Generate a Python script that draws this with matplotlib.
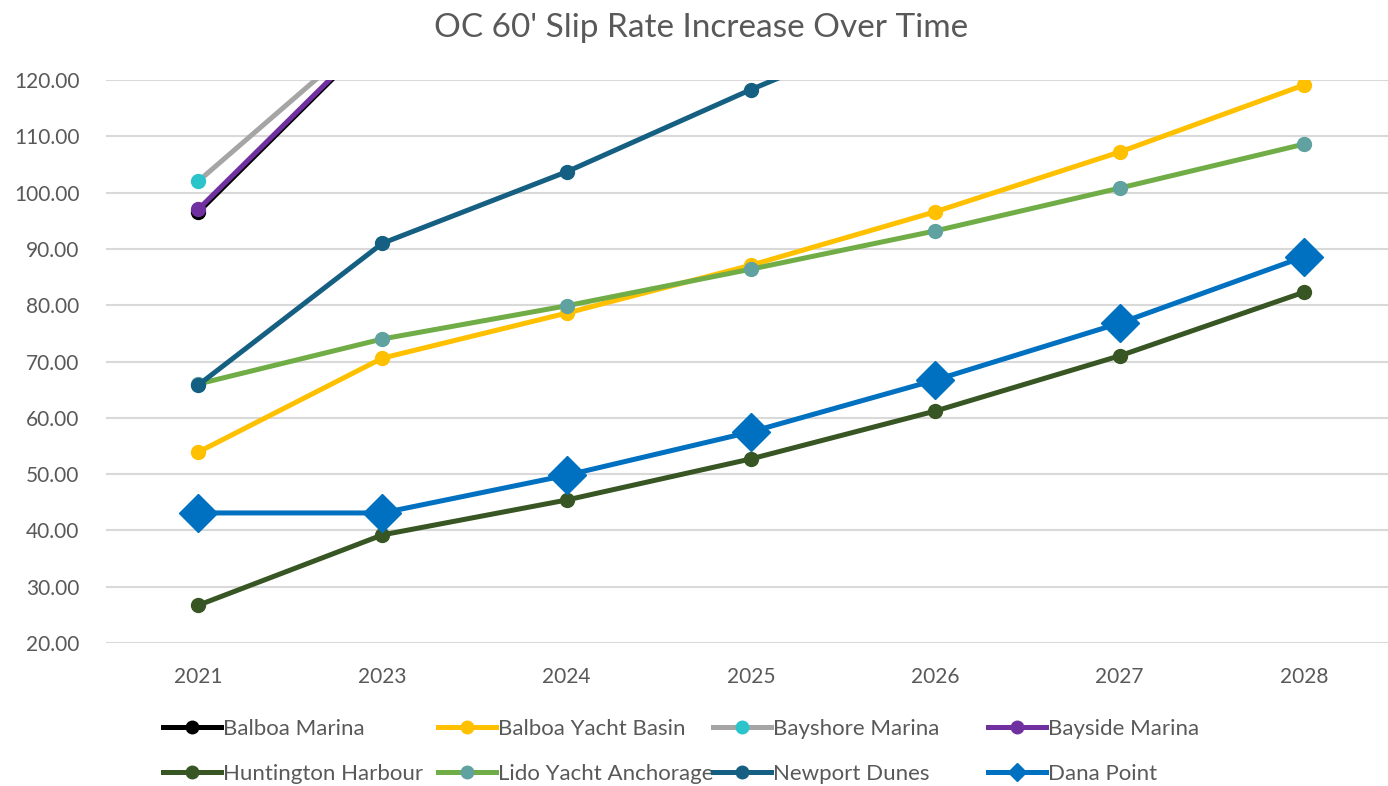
import matplotlib
matplotlib.use("Agg")
import matplotlib.pyplot as plt

plt.rcParams['font.family'] = ['Lato', 'DejaVu Sans']

# categorias del eje X (no hay 2022)
years = ['2021', '2023', '2024', '2025', '2026', '2027', '2028']

# valores (los que pasan de 120 quedan fuera del area)
balboa_marina = [96.5, 129.0, 143.0, 157.0, 171.0, 186.0, 201.0]
balboa_yacht_basin = [53.9, 70.6, 78.6, 87.1, 96.6, 107.2, 119.1]
bayshore_marina = [102.0, 130.3, 145.0, 160.0, 175.0, 190.0, 206.0]
bayside_marina = [97.0, 129.3, 143.5, 157.5, 172.0, 187.0, 202.0]
huntington_harbour = [26.7, 39.2, 45.4, 52.7, 61.2, 71.0, 82.3]
lido_yacht_anchorage = [66.0, 74.0, 79.9, 86.4, 93.2, 100.8, 108.6]
newport_dunes = [65.8, 91.0, 103.7, 118.3, 132.0, 146.0, 161.0]
dana_point = [43.1, 43.1, 49.8, 57.5, 66.7, 76.8, 88.6]

gris = '#595959'

fig = plt.figure(figsize=(13.88, 7.86), dpi=100)
ax = fig.add_axes([106 / 1388, 143 / 786, 1290 / 1388, 563 / 786])

x = range(len(years))
lw = 3.6

l1, = ax.plot(x, balboa_marina, '-o', color='black', lw=lw, ms=10, label='Balboa Marina')
l2, = ax.plot(x, balboa_yacht_basin, '-o', color='#FFC000', lw=lw, ms=10, label='Balboa Yacht Basin')
l3, = ax.plot(x, bayshore_marina, '-o', color='#A5A5A5', mfc='#2BC4CB', mec='#2BC4CB',
              lw=lw, ms=10, label='Bayshore Marina')
l4, = ax.plot(x, bayside_marina, '-o', color='#7030A0', lw=lw, ms=10, label='Bayside Marina')
l5, = ax.plot(x, huntington_harbour, '-o', color='#375623', lw=lw, ms=10, label='Huntington Harbour')
l6, = ax.plot(x, lido_yacht_anchorage, '-o', color='#70AD47', mfc='#5FA2A0', mec='#5FA2A0',
              lw=lw, ms=10, label='Lido Yacht Anchorage')
l7, = ax.plot(x, newport_dunes, '-o', color='#156082', lw=lw, ms=10, label='Newport Dunes')
l8, = ax.plot(x, dana_point, '-D', color='#0070C0', lw=lw, ms=19, label='Dana Point')

ax.set_xlim(-0.5, len(years) - 0.5)
ax.set_ylim(20, 120)
ax.set_yticks(range(20, 121, 10))
ax.set_yticklabels(['%.2f' % v for v in range(20, 121, 10)])
ax.set_xticks(list(x))
ax.set_xticklabels(years)
ax.tick_params(length=0, labelsize=15, colors=gris)
ax.tick_params(axis='x', pad=17)
ax.tick_params(axis='y', pad=19)
ax.grid(axis='y', color='#D9D9D9', lw=1.5)
ax.set_axisbelow(True)
for s in ax.spines.values():
    s.set_visible(False)

fig.text(0.505, 0.965, "OC 60' Slip Rate Increase Over Time", ha='center', va='center',
         fontsize=24, color=gris)

# leyenda en 4 columnas de igual ancho (como excel)
columnas = [(l1, l5), (l2, l6), (l3, l7), (l4, l8)]
for i, hs in enumerate(columnas):
    leg = fig.legend(handles=list(hs), loc='upper left',
                     bbox_to_anchor=((163 + i * 275) / 1388, 1 - 719 / 786),
                     frameon=False, fontsize=16, handlelength=2.6, handletextpad=0.1,
                     labelspacing=1.12, borderpad=0, borderaxespad=0)
    for t in leg.get_texts():
        t.set_color(gris)
    for h in leg.legend_handles:
        h.set_markersize(9)

fig.savefig('out.png', dpi=100)
